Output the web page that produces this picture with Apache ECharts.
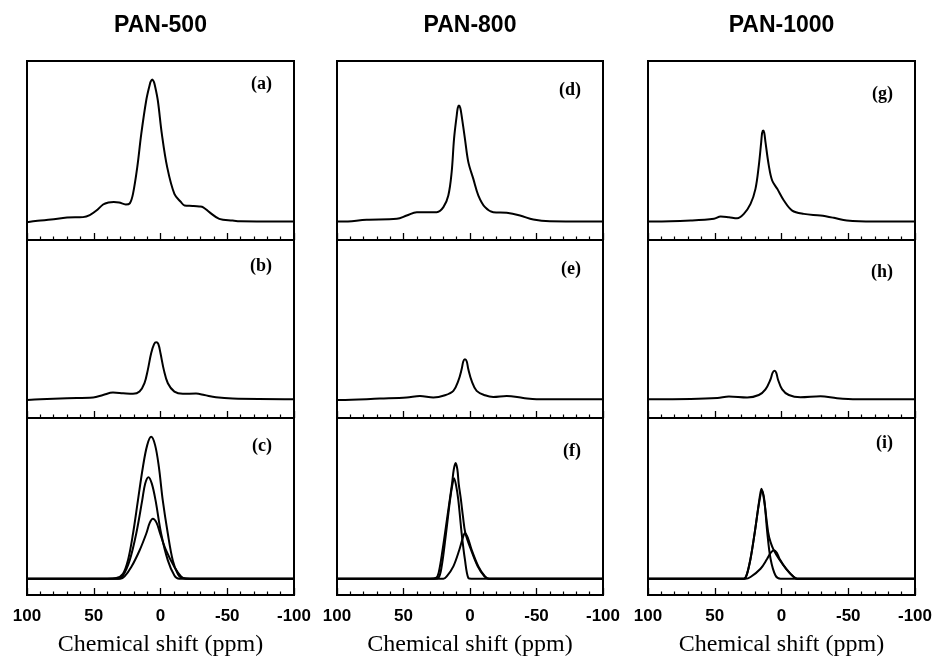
<!DOCTYPE html>
<html><head><meta charset="utf-8">
<script src="https://cdn.jsdelivr.net/npm/echarts@6/dist/echarts.min.js"></script>
<style>html,body{margin:0;padding:0;background:#fff}#c{width:937px;height:664px}</style>
</head><body><div id="c"></div>
<script>
// ---- data (chemical shift ppm, intensity in arbitrary units) ----
const columnTitles = ['PAN-500', 'PAN-800', 'PAN-1000'];
const panelLabels = ['(a)', '(b)', '(c)', '(d)', '(e)', '(f)', '(g)', '(h)', '(i)'];
const xTickValues = [100, 50, 0, -50, -100];
const axisTitle = 'Chemical shift (ppm)';

const specA = [[100,-0.5],[92,0.5],[82,1.4],[70,2.8],[58,3.1],[53,4.5],[48,7.7],[43,12],[39,13.4],[35,13.8],[31,13.4],[26,12],[23,12.8],[20.6,19.5],[17.4,38.3],[14.4,61.7],[10.7,85.2],[8.2,95.8],[7.3,98.6],[6.2,100],[5.1,98.6],[4.2,95.8],[2,85.2],[-1,61.7],[-5,38.3],[-10.4,19.5],[-15.4,13.6],[-18,11.3],[-24,11],[-29,10.6],[-32,10],[-36.6,6.6],[-44,1.9],[-54,0.7],[-60,0.2],[-100,0]];
const specB = [[100,-0.5],[90,0],[70,0.7],[50.5,1.2],[43,3],[35.6,4.7],[28,4.2],[20.6,3.8],[15.7,5.4],[12,11.3],[9.5,20.7],[7,32.4],[4.8,38.8],[3.2,40.1],[1.6,38.8],[0,32.4],[-2.5,20.7],[-5.5,11.3],[-10.4,5.4],[-16.7,3.8],[-26.6,4],[-32.8,3],[-41.5,1.4],[-54,0.5],[-100,0]];
const specCsum = [[100,0],[40,0],[33.1,0.5],[28.1,3.5],[24.4,12.9],[20.6,31.7],[16.9,55.2],[13.2,78.6],[10,94],[7,100],[4,94],[1.2,78.6],[-1.7,55.2],[-5.5,31.7],[-9.2,12.9],[-12.9,3.5],[-16.2,0.5],[-25,0],[-100,0]];
const specC1 = [[100,0],[32,0],[28.1,2.3],[23.1,12.9],[18.2,31.7],[13.7,55.2],[11.5,67],[9,71.6],[6.5,67],[3.7,55.2],[-0.5,31.7],[-5.5,12.9],[-10.4,2.3],[-14,0],[-100,0]];
const specC2 = [[100,0],[30,0],[26.9,1.6],[21.9,8.2],[15.7,19.9],[10.7,31.7],[8,39.5],[5.7,42.3],[3,39.5],[0.25,31.7],[-4.2,19.9],[-10.4,8.2],[-15.4,1.6],[-19,0],[-100,0]];
const specD = [[100,0],[96.5,0],[77.7,1.2],[55,1.9],[47.6,4.2],[40,6.6],[32.6,6.6],[25,6.6],[20,10.1],[16.3,18.3],[13.8,34.7],[12,58.2],[10,74.6],[9.2,80],[8.3,81.7],[7.3,80],[6.3,74.6],[3.8,58.2],[1.25,41.8],[-2.5,30],[-6.3,18.3],[-11.3,10.1],[-17.5,6.6],[-27.6,6.1],[-37.6,4.2],[-47.6,1.4],[-60,0.2],[-100,0]];
const specE = [[100,-0.5],[97.7,-0.5],[67.7,0.5],[47.6,1.2],[37.6,2.3],[27.6,1.2],[18.8,2.8],[12.5,5.9],[8.8,12.9],[6.3,21.1],[5,26.8],[3.8,28.2],[2.5,26.8],[1.25,21.1],[-1.25,12.9],[-5,5.9],[-11.3,2.8],[-17.5,1.6],[-27.6,2.3],[-40,0.9],[-50,0],[-100,0]];
const specFsum = [[100,0],[30,0],[25.6,0.5],[23.6,4],[20.6,20.4],[17,43.9],[13.5,67.1],[12.2,77],[10.8,81.5],[9.5,77],[8.5,67.1],[6.8,55.6],[5.3,43.9],[3.5,32.2],[-0.75,20.4],[-5.8,8.7],[-10.8,1.6],[-14,0],[-100,0]];
const specF1 = [[100,0],[27,0],[23.8,0.5],[21.3,8.7],[18,32.2],[15,55.6],[13.3,66],[12,70.9],[10.5,66],[8.8,55.6],[6.3,32.2],[3.8,13.4],[1.25,0.5],[-1,0],[-100,0]];
const specF2 = [[100,0],[20,0],[17.5,1.6],[12.5,8.7],[8,20.4],[5.5,28.5],[3.8,32.2],[1.5,28.5],[-1.25,20.4],[-6.3,8.7],[-11.3,1.6],[-14.5,0],[-100,0]];
const specG = [[100,0],[95.5,0],[68,0.7],[50.6,1.9],[45.6,3.5],[39.4,3],[33.2,2.3],[28.2,5.4],[23.2,12.4],[19.5,23],[17,39.4],[15.2,55.9],[14.5,62.4],[13.7,64.1],[12.9,62.4],[12,55.9],[9.5,39.4],[7,28.9],[3.2,23],[-1.75,14.8],[-8,7.7],[-16.7,5.4],[-29.2,4.2],[-39.2,2.6],[-49,0.7],[-69,0],[-100,0]];
const specH = [[100,0],[68,0.2],[48,0.9],[39.4,1.9],[25.7,1.2],[17,3],[12,7],[8.2,14.1],[6.7,18.6],[5.2,20],[3.9,18.6],[2.7,14.1],[-0.5,7],[-5.5,3],[-14.2,1.4],[-29.2,2.1],[-41.6,0.7],[-56.6,0],[-100,0]];
const specIsum = [[100,0],[28.2,0],[26.2,2.3],[23.2,14.1],[20,32.9],[16.5,56.3],[15,63.4],[13.2,56.3],[10,32.9],[8.2,25.8],[5.7,20],[2,14.1],[-3.5,7],[-9.2,1.2],[-11.7,0],[-100,0]];
const specI1 = [[100,0],[28.2,0],[26.2,2.3],[23.2,14.1],[20,32.9],[16.5,55],[14.5,62.2],[12.8,55],[10.7,32.9],[8.2,14.1],[4.5,2.3],[0.7,0],[-100,0]];
const specI2 = [[100,0],[27,0],[23.2,1.2],[15.7,7],[10.7,14.1],[8,18.3],[5.7,20],[3.5,18.3],[1.5,14.1],[-3.5,7],[-9.2,1.2],[-11.7,0],[-100,0]];

// panel contents, column-major: (a)(b)(c) | (d)(e)(f) | (g)(h)(i)
const panelCurves = [
  [specA], [specB], [specCsum, specC1, specC2],
  [specD], [specE], [specFsum, specF1, specF2],
  [specG], [specH], [specIsum, specI1, specI2]
];

// ---- layout ----
const colLeft = [27, 337, 648];
const colWidth = [267, 266, 267];
const rowTop = [61, 240, 418];
const rowHeight = [179, 178, 177];
const rowYMin = [-13, -13.2, -11.5];
const rowYMax = [113, 112.2, 113.3];
const labelY = [84, 266, 446, 90, 269, 451, 94, 272, 443];

const grids = [], xAxes = [], yAxes = [], series = [], graphics = [];
for (let c = 0; c < 3; c++) {
  for (let r = 0; r < 3; r++) {
    const idx = c * 3 + r;
    grids.push({
      left: colLeft[c], top: rowTop[r], width: colWidth[c], height: rowHeight[r],
      show: true, borderColor: '#000', borderWidth: 2, backgroundColor: 'transparent'
    });
    const bottomRow = r === 2;
    xAxes.push({
      type: 'value', gridIndex: idx, position: 'bottom',
      min: xTickValues[xTickValues.length - 1], max: xTickValues[0],
      interval: 50, inverse: true,
      axisLine: { show: false, onZero: false },
      axisTick: { show: true, inside: true, length: 7, lineStyle: { color: '#000', width: 1.3 } },
      minorTick: { show: true, splitNumber: 5, length: 3.5, lineStyle: { color: '#000', width: 1.2 } },
      splitLine: { show: false }, minorSplitLine: { show: false },
      axisLabel: {
        show: bottomRow, margin: 13, color: '#000',
        fontFamily: 'Liberation Sans', fontWeight: 'bold', fontSize: 17,
        formatter: v => String(v)
      },
      name: bottomRow ? axisTitle : '',
      nameLocation: 'middle', nameGap: 38,
      nameTextStyle: { fontFamily: 'Liberation Serif', fontSize: 24, color: '#000' }
    });
    yAxes.push({
      type: 'value', gridIndex: idx, min: rowYMin[r], max: rowYMax[r], show: false,
      splitLine: { show: false }
    });
    panelCurves[idx].forEach(curve => {
      series.push({
        type: 'line', xAxisIndex: idx, yAxisIndex: idx, data: curve,
        showSymbol: false, smooth: 0.35,
        lineStyle: { color: '#000', width: 2 }, silent: true, animation: false
      });
    });
    graphics.push({
      type: 'text', x: colLeft[c] + colWidth[c] - 22, y: labelY[idx],
      style: {
        text: panelLabels[idx], fill: '#000',
        font: 'bold 18px "Liberation Serif"',
        align: 'right', verticalAlign: 'middle',
        textAlign: 'right', textVerticalAlign: 'middle'
      }
    });
  }
  graphics.push({
    type: 'text', x: colLeft[c] + colWidth[c] / 2, y: 26,
    style: {
      text: columnTitles[c], fill: '#000',
      font: 'bold 23px "Liberation Sans"',
      align: 'center', verticalAlign: 'middle',
      textAlign: 'center', textVerticalAlign: 'middle'
    }
  });
}

const chart = echarts.init(document.getElementById('c'), null, { renderer: 'canvas' });
chart.setOption({
  animation: false,
  backgroundColor: '#fff',
  grid: grids, xAxis: xAxes, yAxis: yAxes, series: series,
  graphic: graphics
});
</script></body></html>
